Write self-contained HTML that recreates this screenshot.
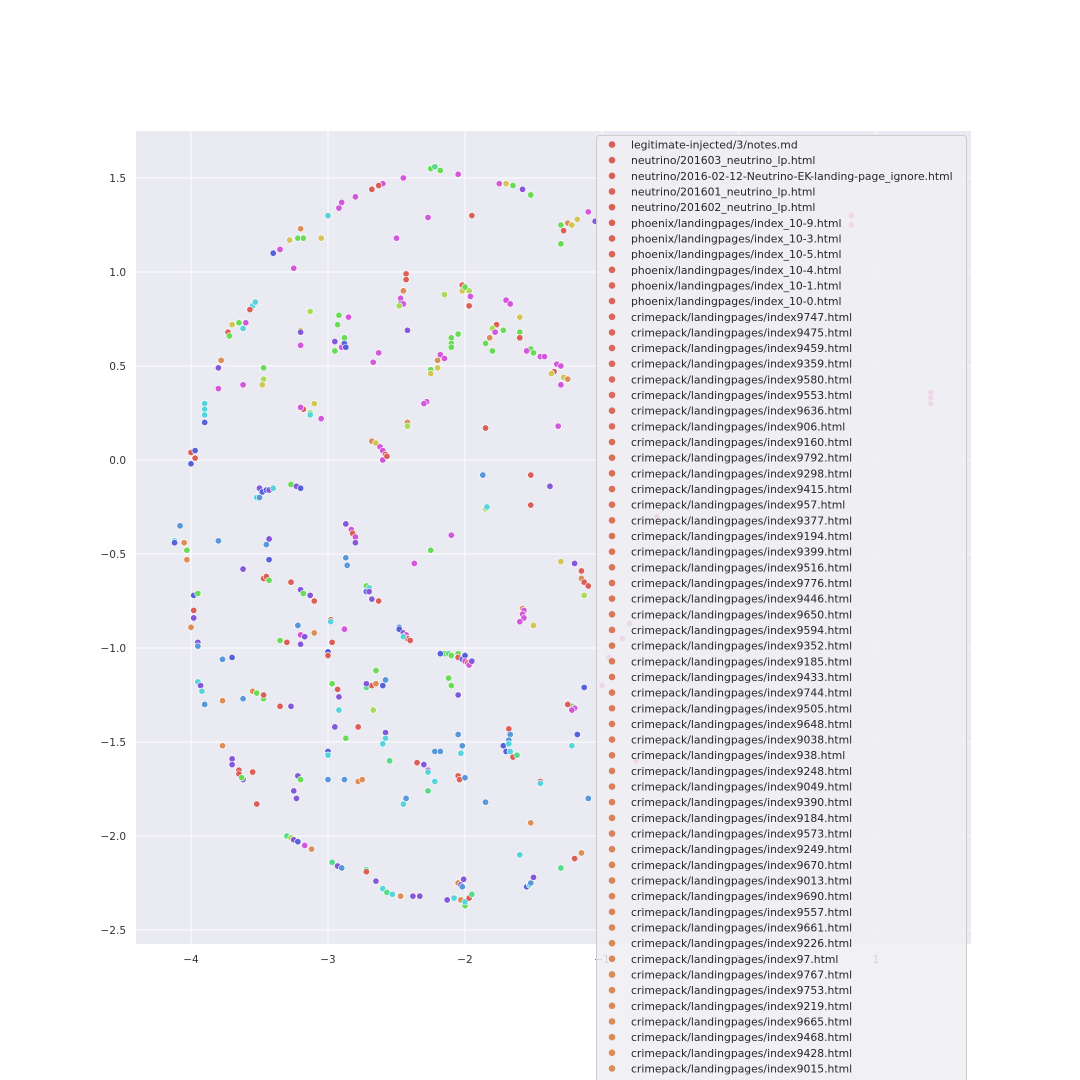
<!DOCTYPE html>
<html><head><meta charset="utf-8"><style>
html,body{margin:0;padding:0;background:#fff;}
svg{display:block;font-family:"DejaVu Sans","Liberation Sans",sans-serif;}
</style></head><body>
<svg id="chart" width="1080" height="1080" viewBox="0 0 1080 1080" xmlns="http://www.w3.org/2000/svg">
<rect x="136" y="131" width="835" height="813" fill="#eaeaf2"/>
<g id="grid"></g>
<g id="ticks"></g>
<g id="points"></g>
<g id="legend"></g>
</svg>
<script>
const xTicks=[-4,-3,-2,-1,0,1];
const xTickLabels=["\u22124","\u22123","\u22122","\u22121","0","1"];
const yTicks=[1.5,1.0,0.5,0.0,-0.5,-1.0,-1.5,-2.0,-2.5];
const yTickLabels=["1.5","1.0","0.5","0.0","\u22120.5","\u22121.0","\u22121.5","\u22122.0","\u22122.5"];
const colorMap={r:"#db5f57",o:"#db8e57",y:"#d3c457",l:"#a8db57",g:"#6adb57",t:"#57db8a",c:"#57d3db",s:"#5797db",b:"#5761db",p:"#8557db",m:"#d357db",k:"#db57a0"};
const xs=[-2.25,-2.22,-2.18,-2.05,-2.45,-2.6,-2.63,-2.68,-2.8,-2.9,-2.92,-3,-3.2,-3.22,-3.18,-3.28,-3.05,-3.35,-3.4,-3.25,-2.27,-1.95,-2.5,-1.75,-1.7,-1.65,-1.58,-1.52,-1.3,-1.25,-1.22,-1.18,-1.1,-1.05,-1.3,-1.28,0.82,0.82,1.4,1.4,1.4,
-3.55,-3.53,-3.57,-3.6,-3.65,-3.7,-3.73,-3.72,-3.62,-3.78,-3.8,-3.47,-3.47,-3.48,-3.62,-3.8,-3.9,-3.9,-3.9,-3.9,-3.2,-3.2,-3.2,-3.13,-3.18,-3.2,-3.13,-3.13,-3.1,-3.05,
-2.92,-2.85,-2.93,-2.95,-2.9,-2.88,-2.88,-2.87,-2.95,-2.67,-2.63,
-2.43,-2.43,-2.45,-2.47,-2.47,-2.45,-2.48,-2.42,-2.15,-2.02,-2.02,-1.97,-2.0,-1.96,-1.97,-2.05,-2.1,-2.1,-2.1,-2.18,-2.2,-2.15,-2.2,-2.25,-2.25,-2.28,-2.3,-2.42,-2.42,
-1.77,-1.8,-1.78,-1.72,-1.7,-1.67,-1.6,-1.6,-1.6,-1.82,-1.85,-1.8,-1.52,-1.5,-1.55,-1.45,-1.42,-1.33,-1.3,-1.35,-1.28,-1.3,-1.37,-1.25,-1.32,-1.85,
-2.68,-2.65,-2.62,-2.6,-2.58,-2.6,-2.57,-1.87,-1.52,-1.38,-1.85,-1.84,-1.52,
-4.0,-3.97,-3.97,-4.0,-4.08,-4.12,-4.12,-4.03,-4.05,-4.03,-3.8,-3.5,-3.48,-3.45,-3.43,-3.4,-3.52,-3.5,-3.27,-3.23,-3.2,-3.45,-3.43,-3.43,-3.62,
-2.87,-2.83,-2.82,-2.8,-2.8,-2.87,-2.86,-2.1,-2.25,-2.37,
-3.98,-3.95,-3.98,-3.98,-4.0,-3.95,-3.95,-3.47,-3.45,-3.43,-3.27,-3.2,-3.18,-3.13,-3.1,-3.22,-3.2,-3.17,-3.2,-3.1,-3.35,-3.3,-2.98,-2.98,-2.97,-2.88,-3.0,-3.0,
-2.72,-2.7,-2.72,-2.7,-2.68,-2.63,-2.48,-2.48,-2.45,-2.43,-2.42,-2.4,-2.45,
-2.15,-2.12,-2.1,-2.05,-2.05,-2.02,-2.0,-2.0,-1.98,-1.97,-1.95,-2.18,-2.05,-2.12,-2.1,
-3.95,-3.93,-3.92,-3.9,-3.77,-3.7,-3.55,-3.52,-3.47,-3.47,-3.62,-3.77,-3.35,-3.27,-2.97,-2.93,-2.92,-2.92,-2.95,-2.87,-2.72,-2.68,-2.72,-2.65,-2.65,-2.58,-2.6,-2.67,-2.58,-2.58,-2.6,-2.55,-2.78,
-3.77,-3.7,-3.7,-3.65,-3.65,-3.62,-3.63,-3.55,-3.52,-3.0,-3.0,-3.0,-3.22,-3.2,-3.25,-3.23,-2.88,-2.78,-2.75,
-2.35,-2.3,-2.27,-2.27,-2.22,-2.18,-2.27,-2.22,-2.43,-2.45,-2.05,-2.02,-2.03,-2.05,-2.04,-2.0,
-1.68,-1.67,-1.68,-1.72,-1.68,-1.7,-1.67,-1.65,-1.62,-1.85,-1.45,-1.45,-1.52,-1.6,
-1.58,-1.57,-1.58,-1.57,-1.6,-1.5,-1.3,-1.22,-1.2,-1.22,-1.25,-1.22,-1.18,-1.13,-1.1,-1.2,-1.15,-1.3,-1.55,-1.53,-1.52,-1.5,
-3.3,-3.27,-3.25,-3.22,-3.17,-3.12,-2.97,-2.93,-2.9,-2.72,-2.72,-2.65,-2.6,-2.57,-2.53,-2.47,-2.38,-2.33,-2.13,-2.08,-2.05,-2.03,-2.02,-2.01,-2.03,-2.0,-2.0,-1.97,-1.95,
-1.15,-1.13,-1.1,-1.13,-1.15,-1.2,-0.8,-0.85,-0.95,-1.0,-0.6,-0.75];
const ys=[1.55,1.56,1.54,1.52,1.5,1.47,1.46,1.44,1.4,1.37,1.34,1.3,1.23,1.18,1.18,1.17,1.18,1.12,1.1,1.02,1.29,1.3,1.18,1.47,1.47,1.46,1.44,1.41,1.25,1.26,1.25,1.28,1.32,1.27,1.15,1.22,1.3,1.25,0.36,0.33,0.3,
0.82,0.84,0.8,0.73,0.73,0.72,0.68,0.66,0.7,0.53,0.49,0.49,0.43,0.4,0.4,0.38,0.3,0.27,0.24,0.2,0.69,0.68,0.61,0.79,0.27,0.28,0.25,0.24,0.3,0.22,
0.77,0.76,0.72,0.63,0.6,0.62,0.65,0.6,0.58,0.52,0.57,
0.99,0.96,0.9,0.86,0.83,0.83,0.82,0.69,0.88,0.93,0.9,0.9,0.92,0.87,0.82,0.67,0.65,0.62,0.6,0.56,0.53,0.54,0.49,0.48,0.46,0.31,0.3,0.2,0.18,
0.72,0.7,0.68,0.69,0.85,0.83,0.76,0.68,0.65,0.65,0.62,0.58,0.59,0.57,0.58,0.55,0.55,0.51,0.5,0.47,0.44,0.4,0.46,0.43,0.18,0.17,
0.1,0.09,0.07,0.05,0.03,0.0,0.02,-0.08,-0.08,-0.14,-0.26,-0.25,-0.24,
0.04,0.05,0.01,-0.02,-0.35,-0.43,-0.44,-0.48,-0.44,-0.53,-0.43,-0.15,-0.17,-0.16,-0.16,-0.15,-0.2,-0.2,-0.13,-0.14,-0.15,-0.45,-0.42,-0.53,-0.58,
-0.34,-0.37,-0.39,-0.41,-0.44,-0.52,-0.56,-0.4,-0.48,-0.55,
-0.72,-0.71,-0.8,-0.84,-0.89,-0.97,-0.99,-0.63,-0.62,-0.64,-0.65,-0.69,-0.71,-0.72,-0.75,-0.88,-0.93,-0.94,-0.98,-0.92,-0.96,-0.97,-0.85,-0.86,-0.97,-0.9,-1.02,-1.04,
-0.67,-0.68,-0.7,-0.7,-0.74,-0.75,-0.89,-0.9,-0.92,-0.93,-0.95,-0.96,-0.94,
-1.03,-1.03,-1.04,-1.03,-1.05,-1.06,-1.04,-1.07,-1.08,-1.09,-1.07,-1.03,-1.25,-1.16,-1.2,
-1.18,-1.2,-1.23,-1.3,-1.06,-1.05,-1.23,-1.24,-1.27,-1.25,-1.27,-1.28,-1.31,-1.31,-1.19,-1.22,-1.26,-1.33,-1.42,-1.48,-1.21,-1.2,-1.19,-1.19,-1.12,-1.17,-1.2,-1.33,-1.45,-1.48,-1.51,-1.6,-1.42,
-1.52,-1.59,-1.62,-1.65,-1.67,-1.7,-1.69,-1.66,-1.83,-1.55,-1.57,-1.7,-1.68,-1.7,-1.76,-1.8,-1.7,-1.71,-1.7,
-1.61,-1.62,-1.65,-1.66,-1.55,-1.55,-1.76,-1.71,-1.8,-1.83,-1.46,-1.52,-1.56,-1.68,-1.7,-1.69,
-1.43,-1.46,-1.49,-1.52,-1.51,-1.55,-1.55,-1.58,-1.57,-1.82,-1.71,-1.72,-1.93,-2.1,
-0.79,-0.8,-0.82,-0.84,-0.86,-0.88,-0.54,-1.31,-1.32,-1.33,-1.3,-1.52,-1.46,-1.21,-1.8,-2.12,-2.09,-2.17,-2.27,-2.26,-2.25,-2.22,
-2.0,-2.01,-2.02,-2.03,-2.05,-2.07,-2.14,-2.16,-2.17,-2.18,-2.19,-2.24,-2.28,-2.3,-2.31,-2.32,-2.32,-2.32,-2.34,-2.33,-2.25,-2.26,-2.27,-2.23,-2.34,-2.37,-2.35,-2.33,-2.31,
-0.63,-0.65,-0.67,-0.72,-0.59,-0.55,-0.87,-0.95,-1.05,-1.2,-0.3,-1.6];
const cs=("g t g m m m r r m m m c o g g y y m b m m r m m y g p g g o y y m p g r k k k k k "+
"c c r m g y r g c o p g l y m m c c c b y p m l r m g c y m "+
"g m g p m b g b g m m "+
"r r o m b m l p l r y l g m r g g g g m o m y g y m m o l "+
"r l m g m m y g r o g g g g m m m m m r y m y o m r "+
"o y m m r m r s r p l c r "+
"r b r b s c b g o o s p b b p c c s g p b s p b p "+
"p m r m p s s m g m "+
"b g r p o p s r r g r p g p r s m p p o g r r c r m b r "+
"g c b p p r s b p m r r c "+
"g t g g r b b m r m p b p g g "+
"c p c s s b o g g r s o r p g r p c p g t r p o g s b l p c c t r "+
"o p p r r p g r r b c s p g p p s o o "+
"r p m c s s t c s c s s c r r s "+
"r s s b c b c r t s r c o c "+
"o m m m m y y g m m r c b b s r o t b c s p "+
"t l p b m o t p s t r p c t c o p p p c o p s p o g c r t "+
"o r r l r p k k k k k k").trim().split(/\s+/);
const legendLabels=["legitimate-injected/3/notes.md","neutrino/201603_neutrino_lp.html","neutrino/2016-02-12-Neutrino-EK-landing-page_ignore.html","neutrino/201601_neutrino_lp.html","neutrino/201602_neutrino_lp.html","phoenix/landingpages/index_10-9.html","phoenix/landingpages/index_10-3.html","phoenix/landingpages/index_10-5.html","phoenix/landingpages/index_10-4.html","phoenix/landingpages/index_10-1.html","phoenix/landingpages/index_10-0.html","crimepack/landingpages/index9747.html","crimepack/landingpages/index9475.html","crimepack/landingpages/index9459.html","crimepack/landingpages/index9359.html","crimepack/landingpages/index9580.html","crimepack/landingpages/index9553.html","crimepack/landingpages/index9636.html","crimepack/landingpages/index906.html","crimepack/landingpages/index9160.html","crimepack/landingpages/index9792.html","crimepack/landingpages/index9298.html","crimepack/landingpages/index9415.html","crimepack/landingpages/index957.html","crimepack/landingpages/index9377.html","crimepack/landingpages/index9194.html","crimepack/landingpages/index9399.html","crimepack/landingpages/index9516.html","crimepack/landingpages/index9776.html","crimepack/landingpages/index9446.html","crimepack/landingpages/index9650.html","crimepack/landingpages/index9594.html","crimepack/landingpages/index9352.html","crimepack/landingpages/index9185.html","crimepack/landingpages/index9433.html","crimepack/landingpages/index9744.html","crimepack/landingpages/index9505.html","crimepack/landingpages/index9648.html","crimepack/landingpages/index9038.html","crimepack/landingpages/index938.html","crimepack/landingpages/index9248.html","crimepack/landingpages/index9049.html","crimepack/landingpages/index9390.html","crimepack/landingpages/index9184.html","crimepack/landingpages/index9573.html","crimepack/landingpages/index9249.html","crimepack/landingpages/index9670.html","crimepack/landingpages/index9013.html","crimepack/landingpages/index9690.html","crimepack/landingpages/index9557.html","crimepack/landingpages/index9661.html","crimepack/landingpages/index9226.html","crimepack/landingpages/index97.html","crimepack/landingpages/index9767.html","crimepack/landingpages/index9753.html","crimepack/landingpages/index9219.html","crimepack/landingpages/index9665.html","crimepack/landingpages/index9468.html","crimepack/landingpages/index9428.html","crimepack/landingpages/index9015.html","crimepack/landingpages/index9141.html"];

const NS="http://www.w3.org/2000/svg";
const X0=136,X1=971,Y0=131,Y1=944;
function sx(v){return 465+(v+2)*137;}
function sy(v){return 460-v*188;}
function mk(t,a,p){const e=document.createElementNS(NS,t);for(const k in a)e.setAttribute(k,a[k]);(p||document.getElementById('chart')).appendChild(e);return e;}
const grid=document.getElementById('grid'),ticks=document.getElementById('ticks');
xTicks.forEach((v,i)=>{
  const l=mk('line',{x1:sx(v),x2:sx(v),y1:Y0,y2:Y1,stroke:'#fff','stroke-width':1},grid);
  
  
  const t=mk('text',{x:sx(v),y:Y1+19,'text-anchor':'middle','font-size':10.5,fill:'#333'},ticks);
  t.textContent=xTickLabels[i];
  
  
});
yTicks.forEach((v,i)=>{
  const l=mk('line',{x1:X0,x2:X1,y1:sy(v),y2:sy(v),stroke:'#fff','stroke-width':1},grid);
  
  
  const t=mk('text',{x:X0-10,y:sy(v)+4,'text-anchor':'end','font-size':10.5,fill:'#333'},ticks);
  t.textContent=yTickLabels[i];
  
  
});
const pts=document.getElementById('points');
for(let i=0;i<xs.length&&i<ys.length;i++){
  const c=mk('circle',{cx:sx(xs[i]),cy:sy(ys[i]),r:3.2,fill:colorMap[cs[i]]||'#db5f57',stroke:'#fff','stroke-width':0.6},pts);
  
  
}
const lg=document.getElementById('legend');
const box=mk('rect',{x:596.5,y:135.5,width:370,height:960,rx:3,fill:'#eeeef3','fill-opacity':0.85,stroke:'#cccccc'},lg);


const n=legendLabels.length;
legendLabels.forEach((s,i)=>{
  const y=144.5+i*15.66;
  const h=3+22*(i/(n-1));
  const g=mk('g',{},lg);
  
  
  mk('circle',{cx:612,cy:y,r:3.3,fill:`hsl(${h},65%,60%)`},g);
  const t=mk('text',{x:631,y:y+4,'font-size':10.8,fill:'#262626'},g);
  t.textContent=s;
});
</script>
</body></html>
